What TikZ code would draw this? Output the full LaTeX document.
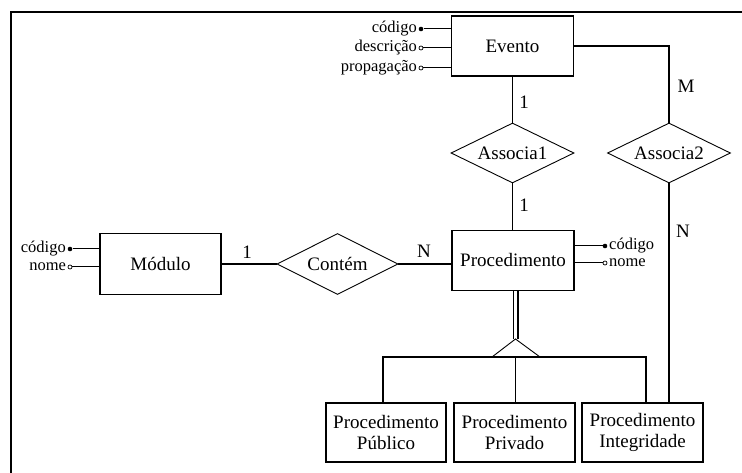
\documentclass[tikz,border=0pt]{standalone}
\usepackage{fontspec}
\setmainfont{Liberation Serif}
\usetikzlibrary{shapes.geometric}
\begin{document}
\begin{tikzpicture}[x=1pt,y=-1pt,
  entity/.style={draw, line width=1.2pt, minimum width=122pt, minimum height=60pt,
    inner sep=0pt, align=center, font=\fontsize{19}{20.5}\selectfont},
  relation/.style={draw, diamond, aspect=2, line width=0.9pt, minimum width=123pt,
    minimum height=60pt, inner sep=0pt, font=\fontsize{19}{21}\selectfont},
  keyattr/.style={circle, fill, inner sep=0pt, minimum size=4.6pt},
  attr/.style={circle, draw, line width=0.7pt, inner sep=0pt, minimum size=4pt},
  attrlabel/.style={inner sep=1.5pt, font=\fontsize{16.5}{18}\selectfont},
  attrline/.style={line width=1pt},
  card/.style={inner sep=0pt, font=\fontsize{19}{21}\selectfont},
  link/.style={line width=1.1pt},
  isa/.style={line width=0.9pt}
]
\useasboundingbox[fill=white] (0,0) rectangle (742,473);

% outer frame (top and left edges)
\coordinate (frameBL) at (11,473);
\coordinate (frameTL) at (11,12);
\coordinate (frameTR) at (742,12);
\draw[line width=2.6pt] (frameBL) -- (frameTL) -- (frameTR);

% entities
\node[entity] (evento) at (512.5,46) {Evento};
\node[entity] (proc) at (513,260.5) {Procedimento};
\node[entity, minimum width=121pt, minimum height=61pt] (modulo) at (160.5,264) {Módulo};
\node[entity, minimum width=120pt, minimum height=59pt] (pub) at (386,432.5) {Procedimento\\Público};
\node[entity, minimum width=121pt, minimum height=59pt] (priv) at (514.5,432.5) {Procedimento\\Privado};
\node[entity, minimum width=121pt, minimum height=59pt] (integ) at (642.5,432.5) {Procedimento\\Integridade};

% relationships
\node[relation] (assoc1) at (512.5,153) {Associa1};
\node[relation] (assoc2) at (669,153) {Associa2};
\node[relation, minimum width=121pt, minimum height=61pt] (contem) at (337.5,264) {Contém};

% relationship connectors
\draw[link] (evento) -- (assoc1);
\draw[link] (assoc1) -- (assoc1.south |- proc.north);
\draw[link] (evento.east) -| (assoc2.north);
\draw[link] (assoc2.south) -- (assoc2.south |- integ.north);
\draw[link] (modulo.east) -- (contem.west);
\draw[link] (contem.east) -- (contem.east -| proc.west);

% cardinalities
\node[card] (cEvA) at (524,102) {1};
\node[card] (cProcA) at (524,205) {1};
\node[card] (cEvB) at (686,86) {M};
\node[card] (cIntB) at (683,231) {N};
\node[card] (cMod) at (247,252) {1};
\node[card] (cProc) at (424,251) {N};

% specialization of Procedimento
\coordinate (apex) at (515.5,339);
\coordinate (baseL) at (492,357);
\coordinate (baseR) at (540,357);
\coordinate (busL) at (383,357);
\coordinate (busM) at (515.5,357);
\coordinate (busR) at (646,357);
\draw[line width=1.8pt, double, double distance=2.4pt] (proc.south -| apex) -- (apex);
\draw[isa] (baseL) -- (apex) -- (baseR);
\draw[link] (busL |- pub.north) -- (busL) -- (busR) -- (busR |- integ.north);
\draw[link] (busM) -- (busM |- priv.north);

% attributes of Evento
\node[keyattr] (evCod) at (421,29) {};
\node[attr] (evDesc) at (421,48) {};
\node[attr] (evProp) at (421,68) {};
\node[attrlabel, anchor=east] (evCodT) at (evCod.west) {código};
\node[attrlabel, anchor=east] (evDescT) at (evDesc.west) {descrição};
\node[attrlabel, anchor=east] (evPropT) at (evProp.west) {propagação};
\draw[attrline] (evCod) -- (evCod -| evento.west);
\draw[attrline] (evDesc.east) -- (evDesc -| evento.west);
\draw[attrline] (evProp.east) -- (evProp -| evento.west);

% attributes of Procedimento
\node[keyattr] (prCod) at (605,246) {};
\node[attr] (prNome) at (605,263) {};
\node[attrlabel, anchor=west] (prCodT) at (prCod.east) {código};
\node[attrlabel, anchor=west] (prNomeT) at (prNome.east) {nome};
\draw[attrline] (prCod) -- (prCod -| proc.east);
\draw[attrline] (prNome.west) -- (prNome -| proc.east);

% attributes of Módulo
\node[keyattr] (moCod) at (70,249) {};
\node[attr] (moNome) at (70,267) {};
\node[attrlabel, anchor=east] (moCodT) at (moCod.west) {código};
\node[attrlabel, anchor=east] (moNomeT) at (moNome.west) {nome};
\draw[attrline] (moCod) -- (moCod -| modulo.west);
\draw[attrline] (moNome.east) -- (moNome -| modulo.west);
\end{tikzpicture}
\end{document}
